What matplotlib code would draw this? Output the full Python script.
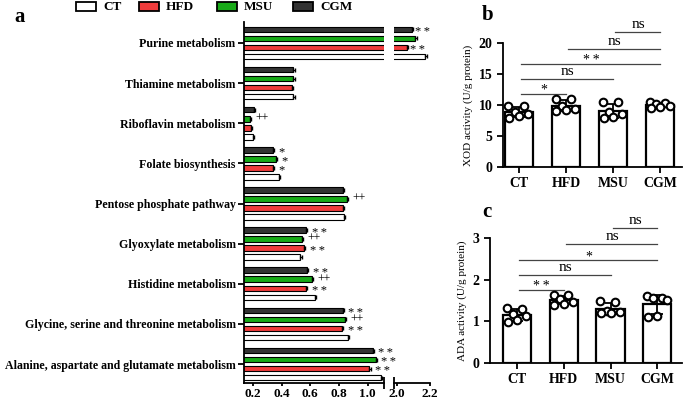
import matplotlib.pyplot as plt
import numpy as np
from matplotlib.patches import Rectangle

plt.rcParams['font.family'] = 'Liberation Serif'
plt.rcParams['font.weight'] = 'bold'
plt.rcParams['axes.linewidth'] = 1.3

# panel a data
pathways = ['Purine metabolism', 'Thiamine metabolism', 'Riboflavin metabolism',
            'Folate biosynthesis', 'Pentose phosphate pathway', 'Glyoxylate metabolism',
            'Histidine metabolism', 'Glycine, serine and threonine metabolism',
            'Alanine, aspartate and glutamate metabolism']
groups = ['CT', 'HFD', 'MSU', 'CGM']
ct = [2.17, 0.48, 0.20, 0.38, 0.833, 0.53, 0.63, 0.86, 1.09]
hfd = [2.06, 0.47, 0.186, 0.34, 0.826, 0.555, 0.57, 0.82, 1.01]
msu = [2.11, 0.48, 0.18, 0.36, 0.854, 0.54, 0.61, 0.84, 1.055]
cgm = [2.09, 0.48, 0.207, 0.34, 0.826, 0.57, 0.576, 0.826, 1.035]
err_a = 0.01
sig_hfd = ['**', '', '', '*', '', '**', '**', '**', '**']
sig_msu = ['', '', '++', '*', '++', '++', '++', '++', '**']
sig_cgm = ['**', '', '', '*', '', '**', '**', '**', '**']

# panels b, c data (individual animals)
xod = {'CT': [9.9, 9.8, 8.8, 8.6, 8.3, 7.9],
       'HFD': [11.0, 10.9, 9.9, 9.4, 9.2, 9.0],
       'MSU': [10.5, 10.5, 8.9, 8.6, 8.0, 7.9],
       'CGM': [10.5, 10.3, 10.2, 9.8, 9.7, 9.6]}
ada = {'CT': [1.31, 1.30, 1.18, 1.12, 1.03, 0.98],
       'HFD': [1.63, 1.62, 1.53, 1.47, 1.42, 1.40],
       'MSU': [1.48, 1.47, 1.24, 1.22, 1.21, 1.20],
       'CGM': [1.60, 1.56, 1.55, 1.52, 1.12, 1.10]}
# (group i, group j, height, label)
xod_sig = [(0, 1, 11.8, '*'), (0, 2, 14.2, 'ns'), (0, 3, 16.6, '**'),
           (1, 3, 19.0, 'ns'), (2, 3, 21.8, 'ns')]
ada_sig = [(0, 1, 1.75, '**'), (0, 2, 2.11, 'ns'), (0, 3, 2.47, '*'),
           (1, 3, 2.85, 'ns'), (2, 3, 3.24, 'ns')]

colors = {'CT': 'white', 'HFD': '#f03c3c', 'MSU': '#18aa18', 'CGM': '#333333'}

fig = plt.figure(figsize=(6.85, 4.01), dpi=100)

# ---------- panel a (broken x axis) ----------
ax1 = fig.add_axes([0.356, 0.045, 0.204, 0.900])
ax2 = fig.add_axes([0.575, 0.045, 0.0526, 0.900])
ax2.patch.set_visible(False)
ypos = np.arange(len(pathways))
pitch = 0.225
h = 0.14
series = [('CT', ct, 1.5, None), ('HFD', hfd, 0.5, sig_hfd),
          ('MSU', msu, -0.5, sig_msu), ('CGM', cgm, -1.5, sig_cgm)]
for ax in (ax1, ax2):
    for name, vals, off, sig in series:
        y = ypos + off * pitch
        ax.barh(y, vals, height=h, color=colors[name], edgecolor='black',
                linewidth=0.8, left=0)
        ax.errorbar(vals, y, xerr=[np.zeros(len(vals)), np.full(len(vals), err_a)],
                    fmt='none', ecolor='black', elinewidth=0.8, capsize=1.5)
    ax.set_ylim(8.47, -0.52)
    ax.spines['top'].set_visible(False)
    ax.spines['right'].set_visible(False)

ax1.set_xlim(0.137, 1.111)
ax1.set_xticks([0.2, 0.4, 0.6, 0.8, 1.0])
ax1.set_xticklabels(['0.2', '0.4', '0.6', '0.8', '1.0'])
ax1.set_yticks(ypos)
ax1.set_yticklabels(pathways, fontsize=8.6)
ax1.tick_params(axis='y', length=4, width=1.3, pad=2)
ax1.tick_params(axis='x', length=2.5, width=1.3, labelsize=9.5, pad=1)

ax2.set_xlim(1.982, 2.2)
ax2.set_xticks([2.0, 2.2])
ax2.set_xticklabels(['2.0', '2.2'])
ax2.spines['left'].set_visible(False)
ax2.set_yticks([])
ax2.tick_params(axis='x', length=2.5, width=1.3, labelsize=9.5, pad=1)

# break marks
ax1.plot([1.0], [0], transform=ax1.transAxes, marker='|', ms=8, mew=1.3,
         color='black', clip_on=False)
ax2.plot([0.0], [0], transform=ax2.transAxes, marker='|', ms=8, mew=1.3,
         color='black', clip_on=False)

for name, vals, off, sig in series:
    if sig is None:
        continue
    for i, (v, s) in enumerate(zip(vals, sig)):
        if not s:
            continue
        y = ypos[i] + off * pitch
        ax = ax2 if v > 1.5 else ax1
        star = s.startswith('*')
        ax.text(v + err_a + (0.012 if v > 1.5 else 0.03), y + (0.07 if star else 0.0),
                s.replace('*', '\u2009*').strip() if star else s,
                fontsize=9 if star else 8.5,
                fontweight='normal', va='center', ha='left', clip_on=False)

# legend
leg_x = [76, 139, 217, 293]
for name, lx in zip(groups, leg_x):
    fig.patches.append(Rectangle((lx / 685, 1 - 11 / 401), 20 / 685, 9 / 401,
                                 transform=fig.transFigure, facecolor=colors[name],
                                 edgecolor='black', linewidth=1.3))
    fig.text((lx + 27) / 685, 1 - 6.5 / 401, name, fontsize=9.5, va='center', ha='left')

fig.text(14 / 685, 1 - 17 / 401, 'a', fontsize=15, va='center', ha='left')
fig.text(482 / 685, 1 - 15 / 401, 'b', fontsize=15, va='center', ha='left')
fig.text(482 / 685, 1 - 212 / 401, 'c', fontsize=15, va='center', ha='left')


# ---------- panels b and c ----------
def dot_bar(ax, data, sig, ylim, yticks, ylabel):
    xs = np.arange(len(groups))
    offs = [-0.22, 0.1, -0.08, 0.2, 0.0, -0.2]
    for i, g in enumerate(groups):
        vals = np.array(data[g])
        m = vals.mean()
        sd = vals.std(ddof=1)
        ax.bar(xs[i], m, width=0.6, color='white', edgecolor='black', linewidth=1.6,
               zorder=1)
        ax.errorbar(xs[i], m, yerr=sd, fmt='none', ecolor='black', elinewidth=1.3,
                    capsize=4, capthick=1.3, zorder=2)
        ax.scatter(xs[i] + np.array(offs), vals, s=30, facecolor='white',
                   edgecolor='black', linewidth=1.5, zorder=3, clip_on=False)
    for a, b, hgt, lab in sig:
        ax.plot([xs[a] + 0.05, xs[b]], [hgt, hgt], color='#444444', lw=0.9,
                clip_on=False)
        ax.text((xs[a] + xs[b]) / 2 + 0.03, hgt + (0.01 if lab == 'ns' else -0.025) * ylim[1],
                lab.replace('*', '\u2009*').strip() if lab != 'ns' else lab,
                ha='center', va='bottom', fontsize=11 if lab == 'ns' else 10,
                fontweight='normal', clip_on=False)
    ax.set_ylim(*ylim)
    ax.set_yticks(yticks)
    ax.set_xticks(xs)
    ax.set_xticklabels(groups)
    ax.set_ylabel(ylabel, fontsize=8, labelpad=4)
    ax.spines['top'].set_visible(False)
    ax.spines['right'].set_visible(False)
    ax.tick_params(axis='both', length=4, width=1.3, labelsize=10)


axb = fig.add_axes([0.734, 0.5835, 0.262, 0.309])
dot_bar(axb, xod, xod_sig, (0, 20), [0, 5, 10, 15, 20], 'XOD activity (U/g protein)')
axb.set_xlim(-0.34, 3.47)

axc = fig.add_axes([0.7153, 0.0948, 0.2803, 0.312])
dot_bar(axc, ada, ada_sig, (0, 3), [0, 1, 2, 3], 'ADA activity (U/g protein)')
axc.set_xlim(-0.58, 3.53)

fig.savefig('out.png', dpi=100)
